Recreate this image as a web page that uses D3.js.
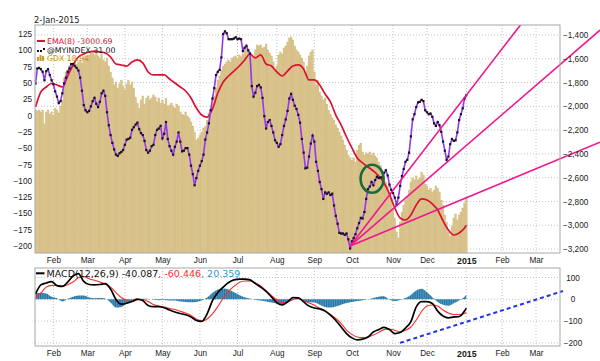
<!DOCTYPE html>
<html lang="en">
<head>
<meta charset="UTF-8">
<title>MYINDEX vs GDX</title>
<script src="https://cdn.jsdelivr.net/npm/d3@7"></script>
<style>
  body { margin: 0; background: #fff; }
  svg { display: block; font-family: "DejaVu Sans", Verdana, sans-serif; }
  .grid line { stroke: #c4c4c4; stroke-width: 1; stroke-dasharray: 1,2; }
  .axis text { fill: #1a1a1a; font-size: 8.2px; }
  .axis path, .axis line { display: none; }
</style>
</head>
<body>
<svg id="chart" width="600" height="361"></svg>
<script>
/*------------------------- data -------------------------*/
// one value per trading day, 17-Jan-2014 .. 2-Jan-2015
const myIndex = [49,72,73,71,67,54,68,71,62,54,48,37,29,19,22,34,49,58,67,72,
  79,79,76,73,69,58,38,16,8,5,7,14,22,27,18,13,21,34,38,30,5,
  -15,-30,-42,-52,-60,-62,-58,-56,-53,-45,-37,-36,-34,-22,-18,-14,-11,-21,-27,-30,
  -39,-53,-57,-54,-47,-45,-30,-22,-20,-16,-35,-28,-10,-36,-47,-54,-60,-48,-40,-26,
  -40,-55,-54,-50,-50,-60,-77,-90,-107,-96,-85,-77,-70,-60,-37,-26,-12,8,26,42,
  62,67,70,89,125,129,126,117,117,117,118,120,117,118,117,99,104,107,100,95,
  45,29,35,45,47,43,27,-1,-20,-10,-7,-16,-26,-38,-42,-48,-44,-30,-16,-6,
  7,26,33,24,15,10,1,-11,-36,-57,-81,-80,-63,-43,-31,-40,-71,-85,-102,-113,
  -128,-118,-120,-118,-122,-120,-138,-154,-166,-180,-181,-181,-183,-181,-190,-204,-193,-188,-182,-173,
  -165,-157,-158,-148,-128,-113,-109,-102,-107,-99,-94,-96,-95,-95,-88,-84,-92,-106,-114,-119,
  -126,-137,-126,-108,-93,-82,-71,-68,-57,-32,-6,2,13,20,21,24,22,8,5,2,
  3,-2,-12,-16,-10,-15,-25,-40,-54,-68,-63,-44,-36,-39,-38,-26,-7,2,11,26,31];

const gdx = [23.49,23.44,23.49,23.39,23.49,22.77,23.39,23.49,23.28,23.39,
  23.23,23.59,23.49,23.34,23.70,24.01,25.15,25.46,25.56,25.77,
  25.87,25.92,25.98,25.87,25.98,26.08,25.92,26.18,26.29,26.08,
  26.34,26.44,26.49,26.34,26.44,26.29,26.18,26.39,26.08,25.98,
  26.18,25.77,25.46,25.15,24.79,24.94,24.63,24.84,25.04,24.73,
  24.53,24.84,25.04,24.79,24.94,24.63,24.16,23.85,23.59,24.01,
  24.22,23.80,24.11,24.22,24.01,24.11,24.27,24.16,23.91,24.11,
  23.85,24.01,23.80,24.11,23.70,23.75,23.85,23.70,23.59,23.80,
  23.70,23.39,23.28,23.23,23.39,23.18,23.08,22.87,22.66,22.35,
  21.94,22.04,22.20,22.35,22.56,22.66,22.97,23.34,23.49,23.80,
  24.22,24.63,25.04,25.25,25.56,25.77,25.87,25.98,26.08,25.98,
  26.18,26.24,26.29,26.18,26.34,26.24,26.39,26.70,26.80,26.60,
  26.49,26.34,26.24,26.60,26.86,26.80,26.86,26.70,26.75,26.91,
  26.60,26.44,26.29,25.98,25.56,25.77,26.34,26.49,26.39,26.70,
  26.80,27.01,27.22,27.27,27.12,26.80,26.60,26.49,26.34,26.18,
  25.98,25.46,25.77,26.29,26.49,26.60,25.46,24.79,25.04,24.42,
  24.22,24.01,24.11,23.80,23.49,23.28,23.08,22.97,22.72,22.56,
  22.35,22.15,21.94,21.68,21.42,21.16,21.01,20.90,21.01,20.80,
  21.42,21.68,21.78,21.32,21.16,21.27,21.21,21.32,21.16,21.27,
  21.11,21.01,20.80,20.64,20.28,19.97,19.77,19.56,19.25,18.94,
  18.32,17.90,17.18,16.87,17.69,18.21,18.57,18.83,19.04,19.35,
  19.77,19.97,19.87,20.08,19.87,19.97,20.28,20.13,19.66,19.56,
  19.35,19.45,19.25,19.35,19.56,19.45,19.25,18.83,18.57,18.06,
  17.69,17.18,16.97,17.49,17.90,18.11,17.80,18.06,18.21,18.42,
  18.68,18.94];

// smoother series, read every 3rd trading day (+ the last one)
const sparseIdx = d3.range(0, 241, 3).concat([241]);
const ema8 = [-2006,-1879,-1837,-1808,-1821,-1837,-1745,-1652,-1585,-1560,
  -1543,-1535,-1543,-1551,-1585,-1644,-1652,-1661,-1627,-1610,
  -1635,-1711,-1736,-1736,-1736,-1770,-1804,-1837,-1871,-1930,
  -2014,-2073,-2090,-2022,-1888,-1795,-1745,-1703,-1661,-1610,
  -1560,-1593,-1568,-1644,-1661,-1711,-1745,-1703,-1661,-1652,
  -1686,-1778,-1778,-1821,-1896,-1963,-2073,-2157,-2258,-2350,
  -2434,-2476,-2510,-2544,-2586,-2645,-2737,-2855,-2939,-2956,
  -2914,-2830,-2779,-2788,-2821,-2872,-2964,-3040,-3082,-3065,
  -3023,-3000.69];
const macd = [24,66,75,81,63,59,79,107,118,82,
  68,66,68,72,47,-1,-22,-18,-10,1,
  -6,-28,-34,-34,-39,-49,-58,-65,-71,-81,
  -97,-101,-67,-6,31,56,77,89,93,93,
  89,72,56,36,11,-15,-26,-12,8,7,
  -12,-31,-40,-44,-54,-73,-97,-127,-157,-177,
  -186,-183,-173,-150,-139,-129,-139,-157,-152,-132,
  -102,-35,-11,-11,-19,-54,-77,-85,-81,-79,
  -54,-40.087];
const signal = [6,29,56,64,63,60,67,79,99,104,
  94,87,79,70,56,31,8,-6,-10,-3,
  -1,-10,-24,-31,-35,-42,-47,-55,-63,-74,
  -90,-100,-90,-67,-33,5,36,59,77,84,
  84,76,61,40,17,-3,-16,-12,-1,4,
  -6,-17,-27,-41,-53,-70,-88,-111,-141,-161,
  -173,-176,-173,-164,-152,-139,-136,-142,-149,-142,
  -127,-95,-56,-31,-26,-31,-49,-63,-70,-70,
  -65,-60.446];
const hist = [25,30,27,12,5,-10,3,12,18,17,
  8,5,6,4,-15,-38,-35,-20,-8,0,
  2,3,-2,-4,-3,-5,-6,-10,-12,-14,
  -12,-6,8,30,45,50,45,32,20,10,
  4,-3,-6,-10,-15,-20,-24,-15,-3,2,
  -10,-14,-15,-25,-35,-38,-33,-25,-17,-12,
  -8,-4,0,6,12,14,-2,-8,-3,6,
  20,40,48,32,10,-12,-25,-30,-18,-6,
  12,20.359];

// drawn annotations, in [trading day, left-axis value]
const fanStart = [176, -200];
const fanEnds = [[315.8, 297], [315.8, 131], [315.8, -41]];
const circleAt = [188.3, -97];
const macdTrend = [[203.9, -200], [295.1, 38]];

// axis ticks
const leftTicks = d3.range(-200, 126, 25);
const rightTicks = d3.range(-3200, -1399, 200);
const macdTicks = [100, 0, -100, -200];
const holidays = ["2014-01-20","2014-02-17","2014-04-18","2014-05-26","2014-07-04",
  "2014-09-01","2014-11-27","2014-12-25","2015-01-01","2015-01-19","2015-02-16"];

/*------------------------ layout ------------------------*/
const P = {left: 35, right: 560, top: 25, bottom: 253};
const M = {top: 268, bottom: 346};
const svg = d3.select("#chart");

// trading days for the x axis
const iso = d3.timeFormat("%Y-%m-%d");
const days = d3.timeDay.range(new Date(2014, 0, 17), new Date(2015, 3, 1))
  .filter(d => d.getDay() % 6 !== 0 && !holidays.includes(iso(d)));
const monthIdx = [];
days.forEach((d, i) => {
  if (i > 0 && d.getMonth() !== days[i - 1].getMonth() && i < 294) monthIdx.push(i);
});
const monthLabel = i => days[i].getMonth() === 0 ? String(days[i].getFullYear()) : d3.timeFormat("%b")(days[i]);

/*------------------------ scales ------------------------*/
const x = d3.scaleLinear().domain([0, 293.7]).range([35.5, 560.5]);
const step = x(1) - x(0);
const yL = d3.scaleLinear().domain([-210.9, 138.8]).range([P.bottom, P.top]);
const yR = d3.scaleLinear().domain([-3233.5, -1315.9]).range([P.bottom, P.top]);
const yG = d3.scaleLinear().domain([16.09, 27.89]).range([P.bottom, P.top]);
const yM = d3.scaleLinear().domain([-214.2, 143.6]).range([M.bottom, M.top]);

/*------------------------ defs --------------------------*/
const defs = svg.append("defs");
defs.append("clipPath").attr("id", "clipMain").append("rect")
  .attr("x", P.left).attr("y", P.top).attr("width", P.right - P.left).attr("height", P.bottom - P.top);
defs.append("clipPath").attr("id", "clipFan").append("rect")
  .attr("x", P.left).attr("y", P.top).attr("width", 600 - P.left).attr("height", P.bottom - P.top);
defs.append("clipPath").attr("id", "clipMacd").append("rect")
  .attr("x", P.left).attr("y", M.top).attr("width", P.right - P.left).attr("height", M.bottom - M.top);
const pat = defs.append("pattern").attr("id", "histPat").attr("patternUnits", "userSpaceOnUse")
  .attr("x", x(0) - step / 2).attr("width", step).attr("height", 10);
pat.append("rect").attr("width", step).attr("height", 10).attr("fill", "#4a9bc8");
pat.append("rect").attr("width", 0.7).attr("height", 10).attr("fill", "#1f628c");

/*------------------------ main panel --------------------*/
svg.append("text").attr("x", 34).attr("y", 22.5).attr("font-size", 8.3).attr("fill", "#1a1a1a").text("2-Jan-2015");

const grid = svg.append("g").attr("class", "grid");
grid.selectAll("line.h").data(rightTicks).join("line")
  .attr("x1", P.left).attr("x2", P.right).attr("y1", d => yR(d)).attr("y2", d => yR(d));
grid.selectAll("line.v").data(monthIdx).join("line")
  .attr("x1", d => x(d)).attr("x2", d => x(d)).attr("y1", P.top).attr("y2", P.bottom);

const gm = svg.append("g").attr("clip-path", "url(#clipMain)");

// GDX bars
gm.selectAll("rect.gdx").data(gdx).join("rect")
  .attr("x", (d, i) => x(i) - step / 2)
  .attr("width", step)
  .attr("y", d => yG(d))
  .attr("height", d => P.bottom - yG(d))
  .attr("fill", "#dac48c")
  .attr("stroke", "#cfb677")
  .attr("stroke-width", 0.35);

// EMA(8)
gm.append("path")
  .attr("d", d3.line().x((d, k) => x(sparseIdx[k])).y(d => yR(d)).curve(d3.curveMonotoneX)(ema8))
  .attr("fill", "none").attr("stroke", "#dc1131").attr("stroke-width", 1.7);

// MYINDEX
gm.append("path")
  .attr("d", d3.line().x((d, i) => x(i)).y(d => yL(d))(myIndex))
  .attr("fill", "none").attr("stroke", "#9436f0").attr("stroke-width", 1.6);
gm.selectAll("rect.dot").data(myIndex).join("rect")
  .attr("x", (d, i) => x(i) - 1.1).attr("y", d => yL(d) - 1.1)
  .attr("width", 2.2).attr("height", 2.2).attr("fill", "#151515");

// fan lines from the October low
svg.append("g").attr("clip-path", "url(#clipFan)")
  .selectAll("line").data(fanEnds).join("line")
  .attr("x1", x(fanStart[0])).attr("y1", yL(fanStart[1]))
  .attr("x2", d => x(d[0])).attr("y2", d => yL(d[1]))
  .attr("stroke", "#f0168f").attr("stroke-width", 1.6);

svg.append("ellipse")
  .attr("cx", x(circleAt[0])).attr("cy", yL(circleAt[1]))
  .attr("rx", 11.5).attr("ry", 14)
  .attr("fill", "none").attr("stroke", "#1c6a3a").attr("stroke-width", 2.6);

// legend
const lg = svg.append("g").attr("font-size", 7.8);
lg.append("line").attr("x1", 37).attr("x2", 45).attr("y1", 41).attr("y2", 41)
  .attr("stroke", "#dc1131").attr("stroke-width", 2);
lg.append("text").attr("x", 47).attr("y", 44).attr("fill", "#dc1131").text("EMA(8) -3000.69");
[[37, 50], [40, 50], [43, 48]].forEach(p => lg.append("rect")
  .attr("x", p[0]).attr("y", p[1]).attr("width", 2).attr("height", 2).attr("fill", "#111"));
lg.append("text").attr("x", 47).attr("y", 52.5).attr("fill", "#111").text("@MYINDEX 31.00");
[[37, 4], [39.5, 6], [42, 5]].forEach(p => lg.append("rect")
  .attr("x", p[0]).attr("y", 61 - p[1]).attr("width", 2).attr("height", p[1]).attr("fill", "#c99a35"));
lg.append("text").attr("x", 47).attr("y", 61).attr("fill", "#d08a12").text("GDX 18.94");

// axes
svg.append("g").attr("class", "axis").attr("transform", `translate(${P.left},0)`)
  .call(d3.axisLeft(yL).tickValues(leftTicks).tickSize(0).tickPadding(3));
svg.append("g").attr("class", "axis").attr("transform", `translate(${P.right},0)`)
  .call(d3.axisRight(yR).tickValues(rightTicks).tickSize(0).tickPadding(3));
svg.append("rect").attr("x", P.left).attr("y", P.top)
  .attr("width", P.right - P.left).attr("height", P.bottom - P.top)
  .attr("fill", "none").attr("stroke", "#a8a8a8");

/*------------------------ month labels ------------------*/
function monthAxis(yPos) {
  const g = svg.append("g").attr("class", "axis").attr("transform", `translate(0,${yPos})`)
    .call(d3.axisBottom(x).tickValues(monthIdx).tickFormat(monthLabel).tickSize(0).tickPadding(4.6));
  g.selectAll("text").filter(d => days[d].getMonth() === 0).attr("font-weight", "bold").style("font-size", "8.8px");
}
monthAxis(P.bottom);
monthAxis(M.bottom);

/*------------------------ MACD panel --------------------*/
const gridM = svg.append("g").attr("class", "grid");
gridM.selectAll("line.h").data(macdTicks).join("line")
  .attr("x1", P.left).attr("x2", P.right).attr("y1", d => yM(d)).attr("y2", d => yM(d));
gridM.selectAll("line.v").data(monthIdx).join("line")
  .attr("x1", d => x(d)).attr("x2", d => x(d)).attr("y1", M.top).attr("y2", M.bottom);

const gM = svg.append("g").attr("clip-path", "url(#clipMacd)");
gM.append("path")
  .attr("d", d3.area().x((d, k) => x(sparseIdx[k])).y0(yM(0)).y1(d => yM(d)).curve(d3.curveMonotoneX)(hist))
  .attr("fill", "url(#histPat)");
gM.append("path")
  .attr("d", d3.line().x((d, k) => x(sparseIdx[k])).y(d => yM(d)).curve(d3.curveMonotoneX)(signal))
  .attr("fill", "none").attr("stroke", "#ff2a2a").attr("stroke-width", 1.1);
gM.append("path")
  .attr("d", d3.line().x((d, k) => x(sparseIdx[k])).y(d => yM(d)).curve(d3.curveMonotoneX)(macd))
  .attr("fill", "none").attr("stroke", "#000").attr("stroke-width", 1.7);

svg.append("line")
  .attr("x1", x(macdTrend[0][0])).attr("y1", yM(macdTrend[0][1]))
  .attr("x2", x(macdTrend[1][0])).attr("y2", yM(macdTrend[1][1]))
  .attr("stroke", "#2233ee").attr("stroke-width", 2).attr("stroke-dasharray", "4,3");

const ml = svg.append("text").attr("x", 46.5).attr("y", 276.8).attr("font-size", 9.5);
svg.append("line").attr("x1", 36).attr("x2", 44.5).attr("y1", 273.3).attr("y2", 273.3)
  .attr("stroke", "#000").attr("stroke-width", 2);
ml.append("tspan").attr("fill", "#111").text("MACD(12,26,9) -40.087");
ml.append("tspan").attr("fill", "#ff2a2a").text(", -60.446");
ml.append("tspan").attr("fill", "#3399cc").text(", 20.359");

const ax = svg.append("g").attr("class", "axis").attr("transform", `translate(${P.right},0)`)
  .call(d3.axisRight(yM).tickValues(macdTicks).tickSize(0).tickPadding(13));
ax.selectAll("text").attr("text-anchor", "middle");

svg.append("rect").attr("x", P.left).attr("y", M.top)
  .attr("width", P.right - P.left).attr("height", M.bottom - M.top)
  .attr("fill", "none").attr("stroke", "#a8a8a8");
</script>
</body>
</html>
